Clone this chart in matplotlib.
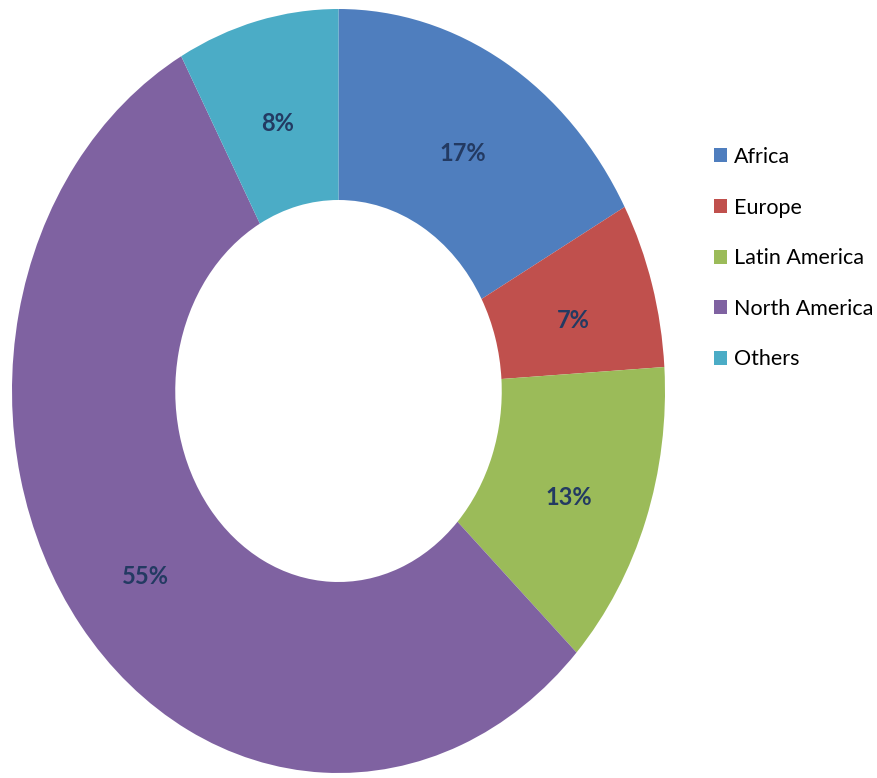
import matplotlib.pyplot as plt

plt.rcParams["font.family"] = ["Lato", "DejaVu Sans"]

regions = ["Africa", "Europe", "Latin America", "North America", "Others"]
shares = [17, 7, 13, 55, 8]
colors = ["#4F7EBE", "#C0504D", "#9BBB59", "#7F62A1", "#4BACC6"]

fig = plt.figure(figsize=(8.77, 7.78), dpi=100)
ax = fig.add_axes([12 / 877, 5 / 778, 653 / 877, 764 / 778])

wedges, texts, autotexts = ax.pie(
  shares,
  colors=colors,
  startangle=90,
  counterclock=False,
  radius=1.0,
  autopct=lambda p: f"{p:.0f}%",
  pctdistance=0.75,
  wedgeprops=dict(width=0.5, linewidth=0),
  textprops=dict(color="#233A62", fontsize=17, fontweight="bold"),
)

# nudge the percentages down a little
for t in autotexts:
  x, y = t.get_position()
  t.set_position((x, y - 0.025))

# stretch the ring to fill the axes box
ax.set_aspect("auto")
ax.set_xlim(-1, 1)
ax.set_ylim(-1, 1)

fig.legend(
  wedges,
  regions,
  loc="upper left",
  bbox_to_anchor=(714 / 877, 1 - 147 / 778),
  frameon=False,
  fontsize=15.5,
  handlelength=0.62,
  handleheight=0.62,
  handletextpad=0.3,
  labelspacing=1.42,
  borderaxespad=0,
  borderpad=0,
)

fig.savefig("out.png", dpi=100)
